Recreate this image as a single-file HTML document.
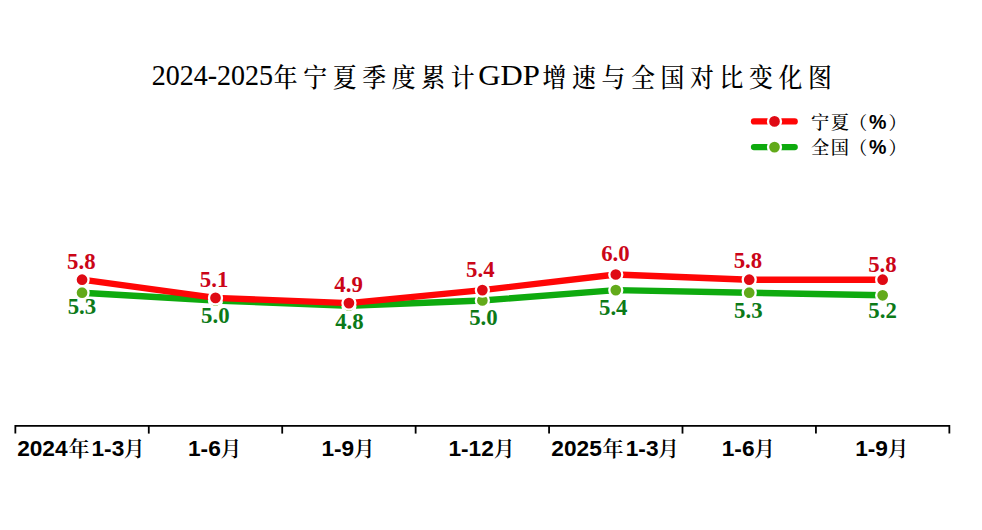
<!DOCTYPE html>
<html lang="zh"><head><meta charset="utf-8"><title>GDP</title>
<style>
html,body{margin:0;padding:0;background:#fff;}
body{width:982px;height:530px;overflow:hidden;}
svg{display:block;}
.title{font-family:"Liberation Serif","Noto Serif CJK SC",serif;font-size:28px;fill:#000;}
.tcj{font-family:"Noto Serif CJK SC",serif;font-size:26.5px;font-weight:500;}
.leg{font-family:"Noto Serif CJK SC",serif;font-size:18.2px;font-weight:500;fill:#000;letter-spacing:1.6px;}
.pct{font-family:"Liberation Sans",sans-serif;font-weight:bold;font-size:19.6px;letter-spacing:0;}
.dl{font-family:"Liberation Serif",serif;font-weight:bold;font-size:24px;text-anchor:middle;}
.ax{font-family:"Liberation Sans","Noto Serif CJK SC",sans-serif;font-weight:bold;font-size:22.7px;fill:#000;}
.ax.cj{font-family:"Noto Serif CJK SC",serif;font-weight:600;font-size:21px;}
</style></head><body>
<svg width="982" height="530" viewBox="0 0 982 530">
<rect width="982" height="530" fill="#fff"/>
<text class="title" transform="scale(1,1.05)" y="81.43" stroke="#000" stroke-width="0.08"><tspan x="151.8">2024-2025</tspan><tspan x="478.3" textLength="61.5" lengthAdjust="spacingAndGlyphs">GDP</tspan></text>
<text class="title tcj" transform="scale(0.9,1)" x="304.14 336.92 369.69 402.47 435.25 468.03 500.81" y="87.0">年宁夏季度累计</text>
<text class="title tcj" transform="scale(0.9,1)" x="602.86 635.64 668.42 701.19 733.97 766.75 799.53 832.31 865.08 897.86" y="87.0">增速与全国对比变化图</text>
<line x1="754" y1="121.4" x2="794.7" y2="121.4" stroke="#ff0606" stroke-width="6.3" stroke-linecap="round"/>
<circle cx="774.5" cy="121.4" r="6.5" fill="#df0a14" stroke="#fff" stroke-width="2.3"/>
<text class="leg" y="128.6"><tspan x="811">宁夏</tspan><tspan x="848.9">（</tspan><tspan class="pct" x="869.0">%</tspan><tspan x="888.5">）</tspan></text>
<line x1="754" y1="147.1" x2="794.7" y2="147.1" stroke="#0eaa0e" stroke-width="6.3" stroke-linecap="round"/>
<circle cx="774.5" cy="147.1" r="6.5" fill="#62aa1a" stroke="#fff" stroke-width="2.3"/>
<text class="leg" y="154.3"><tspan x="811">全国</tspan><tspan x="848.9">（</tspan><tspan class="pct" x="869.0">%</tspan><tspan x="888.5">）</tspan></text>
<polyline points="82.06,292.70 215.50,300.50 348.93,305.70 482.36,300.50 615.79,290.10 749.22,292.70 882.65,295.30" fill="none" stroke="#0eaa0e" stroke-width="6.4" stroke-linejoin="round" stroke-linecap="round"/>
<circle cx="82.06" cy="292.70" r="6.5" fill="#62aa1a" stroke="#fff" stroke-width="2.3"/>
<circle cx="215.50" cy="300.50" r="6.5" fill="#62aa1a" stroke="#fff" stroke-width="2.3"/>
<circle cx="348.93" cy="305.70" r="6.5" fill="#62aa1a" stroke="#fff" stroke-width="2.3"/>
<circle cx="482.36" cy="300.50" r="6.5" fill="#62aa1a" stroke="#fff" stroke-width="2.3"/>
<circle cx="615.79" cy="290.10" r="6.5" fill="#62aa1a" stroke="#fff" stroke-width="2.3"/>
<circle cx="749.22" cy="292.70" r="6.5" fill="#62aa1a" stroke="#fff" stroke-width="2.3"/>
<circle cx="882.65" cy="295.30" r="6.5" fill="#62aa1a" stroke="#fff" stroke-width="2.3"/>
<polyline points="82.06,279.70 215.50,297.90 348.93,303.10 482.36,290.10 615.79,274.50 749.22,279.70 882.65,279.70" fill="none" stroke="#ff0606" stroke-width="6.4" stroke-linejoin="round" stroke-linecap="round"/>
<circle cx="82.06" cy="279.70" r="6.5" fill="#df0a14" stroke="#fff" stroke-width="2.3"/>
<circle cx="215.50" cy="297.90" r="6.5" fill="#df0a14" stroke="#fff" stroke-width="2.3"/>
<circle cx="348.93" cy="303.10" r="6.5" fill="#df0a14" stroke="#fff" stroke-width="2.3"/>
<circle cx="482.36" cy="290.10" r="6.5" fill="#df0a14" stroke="#fff" stroke-width="2.3"/>
<circle cx="615.79" cy="274.50" r="6.5" fill="#df0a14" stroke="#fff" stroke-width="2.3"/>
<circle cx="749.22" cy="279.70" r="6.5" fill="#df0a14" stroke="#fff" stroke-width="2.3"/>
<circle cx="882.65" cy="279.70" r="6.5" fill="#df0a14" stroke="#fff" stroke-width="2.3"/>
<text class="dl" fill="#cb0518" x="81.35" y="268.80" textLength="28.5" lengthAdjust="spacingAndGlyphs">5.8</text>
<text class="dl" fill="#cb0518" x="214.05" y="286.60" textLength="28.5" lengthAdjust="spacingAndGlyphs">5.1</text>
<text class="dl" fill="#cb0518" x="348.60" y="291.60" textLength="28.5" lengthAdjust="spacingAndGlyphs">4.9</text>
<text class="dl" fill="#cb0518" x="480.30" y="277.30" textLength="28.5" lengthAdjust="spacingAndGlyphs">5.4</text>
<text class="dl" fill="#cb0518" x="615.40" y="260.90" textLength="28.5" lengthAdjust="spacingAndGlyphs">6.0</text>
<text class="dl" fill="#cb0518" x="747.90" y="267.80" textLength="28.5" lengthAdjust="spacingAndGlyphs">5.8</text>
<text class="dl" fill="#cb0518" x="882.45" y="272.10" textLength="28.5" lengthAdjust="spacingAndGlyphs">5.8</text>
<text class="dl" fill="#0c7a18" x="81.90" y="313.90" textLength="28.5" lengthAdjust="spacingAndGlyphs">5.3</text>
<text class="dl" fill="#0c7a18" x="215.30" y="323.10" textLength="28.5" lengthAdjust="spacingAndGlyphs">5.0</text>
<text class="dl" fill="#0c7a18" x="349.40" y="328.60" textLength="28.5" lengthAdjust="spacingAndGlyphs">4.8</text>
<text class="dl" fill="#0c7a18" x="483.40" y="325.40" textLength="28.5" lengthAdjust="spacingAndGlyphs">5.0</text>
<text class="dl" fill="#0c7a18" x="613.25" y="314.90" textLength="28.5" lengthAdjust="spacingAndGlyphs">5.4</text>
<text class="dl" fill="#0c7a18" x="748.30" y="318.00" textLength="28.5" lengthAdjust="spacingAndGlyphs">5.3</text>
<text class="dl" fill="#0c7a18" x="882.60" y="318.30" textLength="28.5" lengthAdjust="spacingAndGlyphs">5.2</text>
<path d="M15.35 433.6 V425.85 H949.36 V433.6" fill="none" stroke="#000" stroke-width="1.8"/>
<line x1="148.78" y1="425.85" x2="148.78" y2="433.6" stroke="#000" stroke-width="1.8"/>
<line x1="282.21" y1="425.85" x2="282.21" y2="433.6" stroke="#000" stroke-width="1.8"/>
<line x1="415.64" y1="425.85" x2="415.64" y2="433.6" stroke="#000" stroke-width="1.8"/>
<line x1="549.07" y1="425.85" x2="549.07" y2="433.6" stroke="#000" stroke-width="1.8"/>
<line x1="682.50" y1="425.85" x2="682.50" y2="433.6" stroke="#000" stroke-width="1.8"/>
<line x1="815.93" y1="425.85" x2="815.93" y2="433.6" stroke="#000" stroke-width="1.8"/>
<text class="ax" x="17.14" y="456.2">2024</text>
<text class="ax cj" x="68.40" y="455.6">年</text>
<text class="ax" x="91.50" y="456.2">1-3</text>
<text class="ax cj" x="123.80" y="456.0">月</text>
<text class="ax" x="551.36" y="456.2">2025</text>
<text class="ax cj" x="602.62" y="455.6">年</text>
<text class="ax" x="625.72" y="456.2">1-3</text>
<text class="ax cj" x="658.02" y="456.0">月</text>
<text class="ax" x="188.00" y="456.2">1-6</text>
<text class="ax cj" x="220.40" y="456.0">月</text>
<text class="ax" x="321.43" y="456.2">1-9</text>
<text class="ax cj" x="353.83" y="456.0">月</text>
<text class="ax" x="721.72" y="456.2">1-6</text>
<text class="ax cj" x="754.12" y="456.0">月</text>
<text class="ax" x="855.15" y="456.2">1-9</text>
<text class="ax cj" x="887.55" y="456.0">月</text>
<text class="ax" x="448.40" y="456.2">1-12</text>
<text class="ax cj" x="493.70" y="456.0">月</text>
</svg></body></html>
